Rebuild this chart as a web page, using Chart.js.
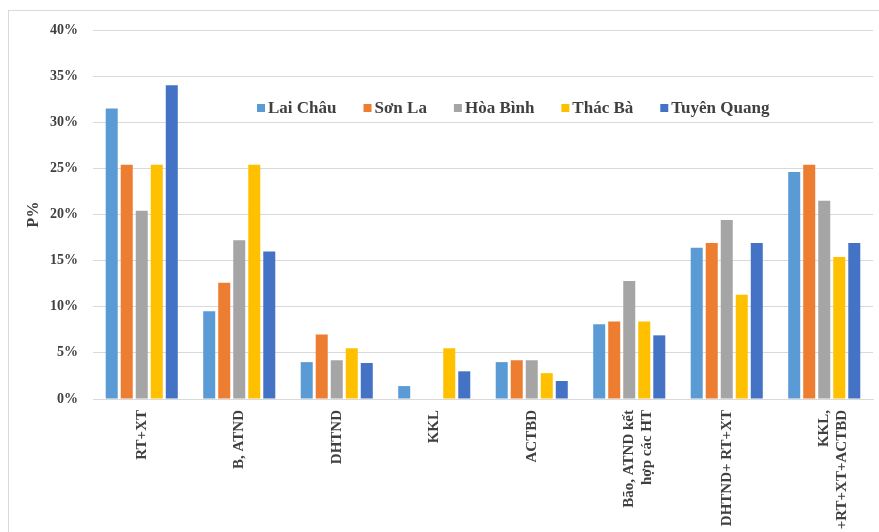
<!DOCTYPE html>
<html>
<head>
<meta charset="utf-8">
<script src="https://cdn.jsdelivr.net/npm/chart.js@4"></script>
<style>
  html, body { margin: 0; padding: 0; background: #fff; overflow: hidden; }
  #frame {
    position: absolute; left: 8px; top: 10px; width: 871px; height: 522px;
    border-top: 1px solid #d9d9d9; border-left: 1px solid #d9d9d9;
    box-sizing: border-box; overflow: hidden;
  }
  #wrap { position: absolute; left: 0; top: 0; width: 870px; height: 521px; }
</style>
</head>
<body>
<div id="frame"><div id="wrap"><canvas id="chart"></canvas></div></div>
<script>
"use strict";

// Nhóm nguyên nhân (trục X)
const categories = [
    "RT+XT",
    "B, ATND",
    "DHTND",
    "KKL",
    "ACTBD",
    ["Bão, ATND kết", "hợp các HT"],
    "DHTND+ RT+XT",
    ["KKL,", "+RT+XT+ACTBD"]
];

const laiChau    = [31.5,  9.5, 4.0, 1.4, 4.0,  8.1, 16.4, 24.6];
const sonLa      = [25.4, 12.6, 7.0, 0,   4.2,  8.4, 16.9, 25.4];
const hoaBinh    = [20.4, 17.2, 4.2, 0,   4.2, 12.8, 19.4, 21.5];
const thacBa     = [25.4, 25.4, 5.5, 5.5, 2.8,  8.4, 11.3, 15.4];
const tuyenQuang = [34.0, 16.0, 3.9, 3.0, 1.95, 6.9, 16.9, 16.9];

const seriesNames = ["Lai Châu", "Sơn La", "Hòa Bình", "Thác Bà", "Tuyên Quang"];
const seriesColors = ["#5B9BD5", "#ED7D31", "#A5A5A5", "#FFC000", "#4472C4"];

const yTicks = [0, 5, 10, 15, 20, 25, 30, 35, 40];

const serif = "'Liberation Serif', 'Times New Roman', serif";
const textColor = "#404040";

// Chú giải nằm trong vùng biểu đồ
const innerLegend = {
    id: "innerLegend",
    afterDraw(chart) {
        const c = chart.ctx;
        c.save();
        c.font = "bold 17px " + serif;
        c.textBaseline = "middle";
        let x = 248;
        const y = 97;
        chart.data.datasets.forEach(ds => {
            c.fillStyle = ds.backgroundColor;
            c.fillRect(x, y - 4, 8, 8);
            x += 11;
            c.fillStyle = textColor;
            c.fillText(ds.label, x, y + 1);
            x += c.measureText(ds.label).width + 27;
        });
        c.restore();
    }
};

const allData = [laiChau, sonLa, hoaBinh, thacBa, tuyenQuang];

new Chart(document.getElementById("chart"), {
    type: "bar",
    data: {
        labels: categories,
        datasets: seriesNames.map((name, i) => ({
            label: name,
            data: allData[i],
            backgroundColor: seriesColors[i],
            barPercentage: 0.8,
            categoryPercentage: 0.77
        }))
    },
    options: {
        responsive: true,
        maintainAspectRatio: false,
        animation: false,
        layout: { padding: { top: 19, right: 6, left: 0, bottom: 0 } },
        plugins: {
            legend: { display: false },
            tooltip: { enabled: false }
        },
        scales: {
            x: {
                grid: { display: false, drawTicks: false },
                border: { color: "#d9d9d9" },
                ticks: {
                    color: textColor,
                    font: { family: serif, size: 15, weight: "bold" },
                    minRotation: 90, maxRotation: 90,
                    padding: 11,
                    autoSkip: false
                },
                afterFit: s => { s.height = 133; }
            },
            y: {
                min: 0, max: 40,
                afterBuildTicks: s => { s.ticks = yTicks.map(v => ({ value: v })); },
                grid: { color: "#d9d9d9", drawTicks: false },
                border: { display: false },
                ticks: {
                    color: textColor,
                    font: { family: serif, size: 14, weight: "bold" },
                    padding: 15,
                    callback: v => v + "%"
                },
                title: {
                    display: true,
                    text: "P%",
                    color: textColor,
                    font: { family: serif, size: 16, weight: "bold" },
                    padding: { top: 15, bottom: 0 }
                },
                afterFit: s => {
                    s.width = 84;
                    s.paddingTop = 0;
                    s.paddingBottom = 0;
                }
            }
        }
    },
    plugins: [innerLegend]
});
</script>
</body>
</html>
